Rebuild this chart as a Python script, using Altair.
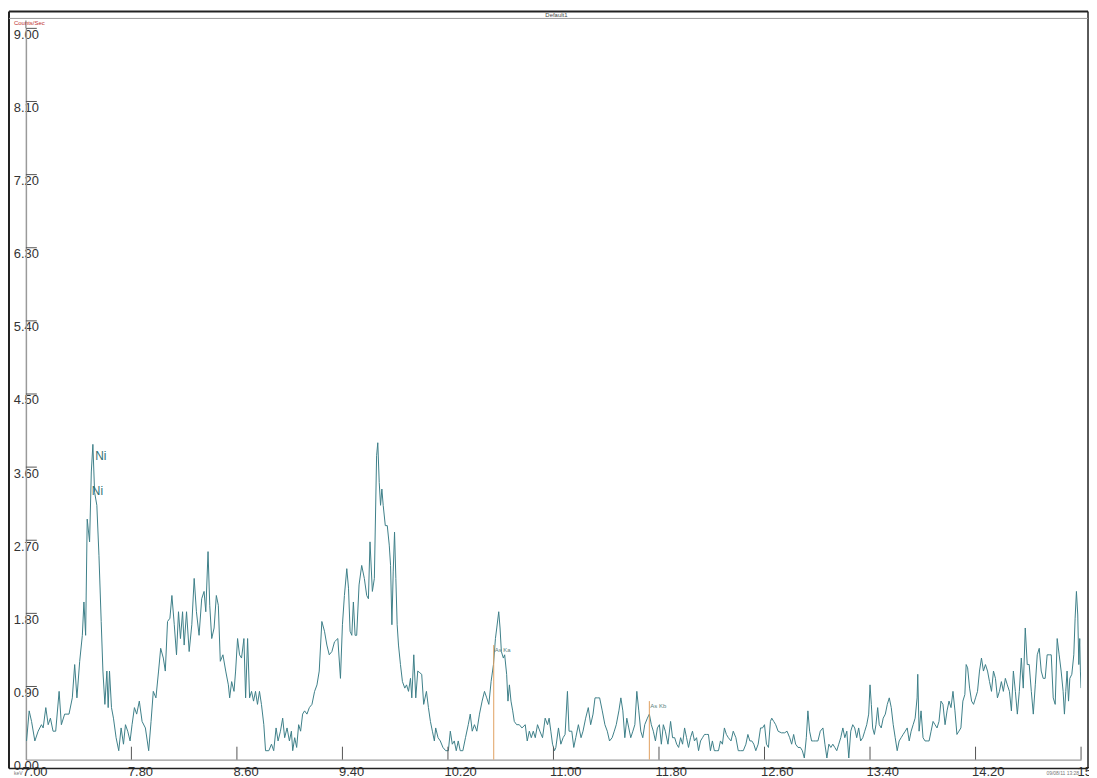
import altair as alt
import pandas as pd

# ---- spectrum data (keV, counts/sec) ----
energy_a = [7.005, 7.025, 7.043, 7.068, 7.093, 7.118, 7.131, 7.151, 7.169, 7.186,
            7.206, 7.226, 7.252, 7.269, 7.294, 7.327, 7.352, 7.370, 7.387, 7.408,
            7.428, 7.440, 7.453, 7.465, 7.483, 7.496, 7.508, 7.521, 7.538, 7.554,
            7.571, 7.584, 7.599, 7.614, 7.624, 7.634, 7.649, 7.664, 7.684, 7.704,
            7.722, 7.740, 7.755, 7.772, 7.790, 7.805, 7.823, 7.840, 7.860, 7.881,
            7.906, 7.931, 7.949, 7.966, 7.986, 8.006, 8.022, 8.042, 8.057, 8.074,
            8.092, 8.107, 8.125, 8.142, 8.157, 8.172, 8.188, 8.200, 8.218, 8.238,
            8.258, 8.276, 8.293, 8.313, 8.333, 8.351, 8.364, 8.381, 8.394, 8.409,
            8.427, 8.444, 8.459, 8.474, 8.494, 8.515, 8.535, 8.545, 8.560, 8.578,
            8.590, 8.605, 8.620, 8.635, 8.653, 8.666, 8.681, 8.696, 8.711, 8.726,
            8.741, 8.756, 8.771, 8.786, 8.804, 8.817, 8.842, 8.862, 8.879, 8.897,
            8.912, 8.930, 8.947, 8.962, 8.980, 8.998, 9.013, 9.023, 9.038, 9.053,
            9.068, 9.083, 9.098, 9.113, 9.131, 9.149, 9.169, 9.189, 9.207, 9.224,
            9.244, 9.264, 9.282, 9.300, 9.320, 9.340, 9.365, 9.385, 9.400, 9.415,
            9.433, 9.446, 9.458, 9.471, 9.483, 9.496, 9.508, 9.526, 9.546, 9.566,
            9.584, 9.597, 9.609, 9.627, 9.642, 9.659, 9.668]
counts_a = [0.23, 0.60, 0.47, 0.23, 0.35, 0.43, 0.39, 0.64, 0.43, 0.51,
            0.35, 0.35, 0.84, 0.43, 0.56, 0.56, 0.76, 1.17, 0.76, 1.21,
            1.53, 1.94, 1.53, 2.96, 2.68, 3.54, 3.88, 3.29, 3.13, 2.51,
            1.70, 1.09, 0.68, 1.09, 0.64, 1.09, 0.64, 0.51, 0.27, 0.11,
            0.39, 0.19, 0.43, 0.35, 0.23, 0.43, 0.64, 0.56, 0.72, 0.47,
            0.39, 0.11, 0.47, 0.84, 0.76, 1.09, 1.37, 1.25, 1.09, 1.70,
            1.74, 2.02, 1.66, 1.29, 1.82, 1.49, 1.82, 1.41, 1.82, 1.33,
            1.66, 2.23, 1.82, 1.53, 1.98, 2.07, 1.82, 2.56, 1.90, 1.49,
            1.62, 2.02, 1.90, 1.21, 1.29, 1.09, 0.92, 0.76, 0.96, 0.84,
            1.09, 1.49, 1.29, 1.25, 1.49, 0.76, 1.49, 0.76, 0.84, 0.72,
            0.84, 0.68, 0.84, 0.68, 0.43, 0.11, 0.11, 0.19, 0.11, 0.39,
            0.23, 0.35, 0.51, 0.27, 0.39, 0.23, 0.35, 0.11, 0.27, 0.15,
            0.43, 0.35, 0.56, 0.60, 0.56, 0.64, 0.68, 0.84, 0.92, 1.09,
            1.70, 1.58, 1.41, 1.29, 1.33, 1.45, 1.49, 1.00, 1.66, 2.02,
            2.35, 2.11, 1.58, 1.53, 1.94, 1.53, 1.53, 2.15, 2.39, 2.23,
            2.02, 1.98, 2.68, 2.07, 2.23, 3.74, 3.90]

energy_b = [9.679, 9.689, 9.699, 9.709, 9.725, 9.740, 9.755, 9.765, 9.775, 9.785,
            9.795, 9.805, 9.815, 9.825, 9.840, 9.855, 9.873, 9.886, 9.901, 9.916,
            9.926, 9.941, 9.956, 9.971, 9.986, 10.001, 10.016, 10.037, 10.052, 10.067,
            10.082, 10.097, 10.107, 10.125, 10.142, 10.162, 10.183, 10.203, 10.218, 10.233,
            10.248, 10.263, 10.278, 10.293, 10.313, 10.333, 10.354, 10.369, 10.384, 10.401,
            10.419, 10.439, 10.459, 10.477, 10.494, 10.510, 10.527, 10.545, 10.560, 10.570,
            10.585, 10.595, 10.605, 10.620, 10.630, 10.645, 10.655, 10.666, 10.678, 10.691,
            10.703, 10.721, 10.741, 10.761, 10.786, 10.801, 10.817, 10.832, 10.847, 10.862,
            10.879, 10.897, 10.917, 10.937, 10.955, 10.967, 10.980, 10.993, 11.008, 11.018,
            11.038, 11.056, 11.073, 11.088, 11.106, 11.118, 11.139, 11.154, 11.169, 11.189,
            11.209, 11.224, 11.244, 11.264, 11.282, 11.300, 11.315, 11.335, 11.350, 11.370,
            11.390, 11.408, 11.425, 11.445, 11.461, 11.476, 11.496, 11.511, 11.526, 11.541,
            11.556, 11.571, 11.586, 11.602, 11.617, 11.632, 11.647, 11.662, 11.677, 11.692,
            11.712, 11.727, 11.742, 11.757, 11.773, 11.788, 11.803, 11.818, 11.833, 11.848,
            11.868, 11.888, 11.903, 11.919, 11.934, 11.949, 11.964, 11.979, 11.994, 12.009,
            12.024, 12.039, 12.054, 12.069, 12.085, 12.100, 12.115, 12.130, 12.145, 12.160,
            12.175, 12.190, 12.205, 12.220, 12.236, 12.251, 12.266, 12.281, 12.296, 12.311,
            12.326, 12.346]
counts_b = [3.41, 3.13, 3.33, 3.13, 2.88, 2.88, 2.64, 2.39, 1.66, 2.31,
            2.80, 2.23, 1.66, 1.41, 1.17, 0.96, 0.88, 0.92, 0.84, 1.00,
            0.76, 1.29, 0.76, 1.09, 1.07, 1.05, 0.68, 0.84, 0.64, 0.47,
            0.35, 0.23, 0.39, 0.27, 0.23, 0.15, 0.11, 0.11, 0.35, 0.19,
            0.23, 0.11, 0.23, 0.11, 0.11, 0.27, 0.43, 0.56, 0.35, 0.43,
            0.35, 0.56, 0.72, 0.84, 0.76, 0.68, 0.96, 1.17, 1.49, 1.62,
            1.82, 1.62, 1.33, 1.25, 1.29, 1.05, 0.72, 0.92, 0.72, 0.60,
            0.47, 0.43, 0.43, 0.39, 0.43, 0.23, 0.35, 0.27, 0.35, 0.27,
            0.43, 0.35, 0.27, 0.51, 0.43, 0.51, 0.35, 0.19, 0.11, 0.15,
            0.39, 0.19, 0.27, 0.31, 0.84, 0.35, 0.35, 0.15, 0.27, 0.43,
            0.27, 0.35, 0.51, 0.64, 0.43, 0.56, 0.76, 0.76, 0.76, 0.60,
            0.43, 0.35, 0.23, 0.27, 0.35, 0.43, 0.60, 0.76, 0.60, 0.27,
            0.51, 0.39, 0.27, 0.35, 0.43, 0.84, 0.60, 0.35, 0.27, 0.43,
            0.51, 0.56, 0.43, 0.35, 0.23, 0.39, 0.43, 0.19, 0.43, 0.35,
            0.19, 0.47, 0.27, 0.27, 0.19, 0.15, 0.27, 0.19, 0.39, 0.27,
            0.15, 0.27, 0.35, 0.23, 0.27, 0.11, 0.23, 0.27, 0.31, 0.31,
            0.31, 0.11, 0.23, 0.11, 0.11, 0.11, 0.23, 0.19, 0.39, 0.31,
            0.27, 0.23]

energy_c = [12.363, 12.383, 12.401, 12.419, 12.439, 12.459, 12.474, 12.489, 12.504, 12.519,
            12.534, 12.552, 12.570, 12.585, 12.600, 12.615, 12.630, 12.645, 12.655, 12.670,
            12.685, 12.703, 12.728, 12.753, 12.771, 12.791, 12.806, 12.821, 12.836, 12.854,
            12.872, 12.887, 12.902, 12.917, 12.929, 12.942, 12.957, 12.972, 12.987, 13.005,
            13.023, 13.043, 13.058, 13.073, 13.088, 13.103, 13.118, 13.133, 13.148, 13.163,
            13.178, 13.194, 13.209, 13.224, 13.239, 13.254, 13.269, 13.284, 13.299, 13.314,
            13.329, 13.345, 13.360, 13.375, 13.390, 13.400, 13.410, 13.420, 13.433, 13.445,
            13.458, 13.470, 13.485, 13.500, 13.516, 13.531, 13.546, 13.561, 13.576, 13.591,
            13.606, 13.621, 13.636, 13.651, 13.667, 13.682, 13.697, 13.712, 13.727, 13.742,
            13.757, 13.762, 13.772, 13.787, 13.802, 13.817, 13.833, 13.848, 13.863, 13.878,
            13.893, 13.908, 13.923, 13.938, 13.953, 13.969, 13.984, 13.999, 14.014, 14.029,
            14.044, 14.059, 14.074, 14.089, 14.104, 14.119, 14.129, 14.140, 14.155, 14.170,
            14.185, 14.200, 14.215, 14.230, 14.245, 14.260, 14.275, 14.291, 14.306, 14.321,
            14.336, 14.351, 14.366, 14.381, 14.396, 14.411, 14.426, 14.441, 14.457, 14.472,
            14.487, 14.502, 14.517, 14.532, 14.547, 14.562, 14.577, 14.592, 14.607, 14.623,
            14.638, 14.653, 14.668, 14.683, 14.698, 14.713, 14.728, 14.743, 14.759, 14.774,
            14.789, 14.804, 14.819, 14.834, 14.849, 14.864, 14.874, 14.884, 14.894, 14.905,
            14.915, 14.930, 14.945, 14.955, 14.965, 14.975, 14.983, 14.990, 14.995, 15.000]
counts_c = [0.35, 0.27, 0.11, 0.11, 0.11, 0.19, 0.31, 0.23, 0.23, 0.19,
            0.11, 0.19, 0.39, 0.39, 0.43, 0.19, 0.15, 0.47, 0.51, 0.47,
            0.43, 0.35, 0.33, 0.33, 0.35, 0.27, 0.19, 0.31, 0.19, 0.15,
            0.15, 0.11, 0.02, 0.27, 0.60, 0.35, 0.23, 0.23, 0.23, 0.23,
            0.35, 0.39, 0.19, 0.02, 0.19, 0.15, 0.19, 0.15, 0.11, 0.19,
            0.27, 0.39, 0.27, 0.35, 0.02, 0.35, 0.43, 0.39, 0.27, 0.39,
            0.23, 0.27, 0.35, 0.43, 0.56, 0.92, 0.68, 0.39, 0.31, 0.43,
            0.64, 0.43, 0.39, 0.51, 0.56, 0.68, 0.76, 0.64, 0.43, 0.27,
            0.11, 0.23, 0.27, 0.31, 0.35, 0.39, 0.23, 0.35, 0.43, 0.51,
            0.76, 1.05, 0.35, 0.60, 0.27, 0.23, 0.23, 0.23, 0.35, 0.47,
            0.43, 0.39, 0.47, 0.72, 0.68, 0.43, 0.60, 0.72, 0.64, 0.84,
            0.60, 0.31, 0.35, 0.39, 0.72, 0.80, 1.17, 1.13, 0.88, 0.72,
            0.68, 0.76, 0.84, 1.09, 1.25, 1.09, 1.17, 1.09, 0.96, 0.84,
            1.09, 1.00, 0.76, 0.84, 0.96, 0.84, 1.00, 0.92, 0.84, 0.60,
            1.09, 0.84, 0.56, 0.84, 1.25, 0.88, 1.62, 1.17, 1.17, 0.84,
            0.56, 0.92, 1.29, 1.37, 1.09, 1.00, 1.00, 1.29, 1.29, 1.29,
            0.76, 0.68, 1.49, 1.29, 1.09, 0.84, 0.56, 0.84, 1.09, 0.72,
            1.00, 1.05, 1.29, 1.74, 2.07, 1.78, 1.17, 1.49, 1.09, 0.88]

# axis ticks
x_ticks = [7.0, 7.8, 8.6, 9.4, 10.2, 11.0, 11.8, 12.6, 13.4, 14.2, 15.0]
y_ticks = [0.0, 0.9, 1.8, 2.7, 3.6, 4.5, 5.4, 6.3, 7.2, 8.1, 9.0]

# element line markers
marker_energy = [10.547, 11.727]
marker_top = [1.41, 0.72]
marker_label = ["As Ka", "As Kb"]

# Ni peak labels
ni_energy = [7.525, 7.500]
ni_counts = [3.74, 3.30]
ni_label = ["Ni", "Ni"]

W, H = 1062, 736
FONT = "Liberation Sans"

def pairs(e, c):
    n = min(len(e), len(c))
    return list(zip(e[:n], c[:n]))

rows = pairs(energy_a, counts_a) + pairs(energy_b, counts_b) + pairs(energy_c, counts_c)
spec_df = pd.DataFrame(rows, columns=["keV", "cps"])

xs = alt.Scale(domain=[7.0, 15.0], nice=False, zero=False)
ys = alt.Scale(domain=[0.0, 9.0], nice=False, zero=True)

spectrum = alt.Chart(spec_df).mark_line(color="#3d7f88", strokeWidth=1, clip=True).encode(
    x=alt.X("keV:Q", scale=xs,
            axis=alt.Axis(values=x_ticks, format=".2f", title=None, grid=False,
                          ticks=False, tickSize=0, domainColor="#9a9a9a", domainWidth=1.5,
                          labelAlign="left", labelOffset=-4, labelFlush=False, labelOverlap=False,
                          labelPadding=6, labelFontSize=13, labelColor="#333333", labelFont=FONT)),
    y=alt.Y("cps:Q", scale=ys,
            axis=alt.Axis(values=y_ticks, format=".2f", title=None, grid=False,
                          ticks=False, tickSize=0, domainColor="#9a9a9a", domainWidth=1.5,
                          labelAlign="center", labelBaseline="top", labelPadding=0,
                          labelOverlap=False, labelFontSize=13, labelColor="#333333",
                          labelFont=FONT)),
)

ytick_df = pd.DataFrame({"v": y_ticks[1:]})
yticks = alt.Chart(ytick_df).mark_rule(color="#555555", strokeWidth=1).encode(
    y=alt.Y("v:Q", scale=ys), x=alt.value(0), x2=alt.value(11))

xtick_df = pd.DataFrame({"v": x_ticks[1:]})
xticks = alt.Chart(xtick_df).mark_rule(color="#555555", strokeWidth=1).encode(
    x=alt.X("v:Q", scale=xs), y=alt.value(H), y2=alt.value(H - 13))

mk_df = pd.DataFrame({"e": marker_energy, "top": marker_top, "base": [0.0, 0.0], "lab": marker_label})
markers = alt.Chart(mk_df).mark_rule(color="#e0a060", strokeWidth=1).encode(
    x=alt.X("e:Q", scale=xs), y=alt.Y("top:Q", scale=ys), y2="base:Q")
marker_text = alt.Chart(mk_df).mark_text(align="left", baseline="top", dx=1, dy=2,
                                         fontSize=6, color="#5a7f80", font=FONT).encode(
    x=alt.X("e:Q", scale=xs), y=alt.Y("top:Q", scale=ys), text="lab:N")

ni_df = pd.DataFrame({"e": ni_energy, "c": ni_counts, "lab": ni_label})
ni_text = alt.Chart(ni_df).mark_text(align="left", baseline="middle", fontSize=12,
                                     color="#2f7074", font=FONT).encode(
    x=alt.X("e:Q", scale=xs), y=alt.Y("c:Q", scale=ys), text="lab:N")

one = pd.DataFrame({"a": [0]})
frame_color = "#222222"
frame = [
    alt.Chart(one).mark_rule(color=frame_color, strokeWidth=2).encode(
        x=alt.value(-17), x2=alt.value(-17), y=alt.value(-17), y2=alt.value(H + 9)),
    alt.Chart(one).mark_rule(color=frame_color, strokeWidth=2).encode(
        x=alt.value(-17), x2=alt.value(W + 7), y=alt.value(-17), y2=alt.value(-17)),
    alt.Chart(one).mark_rule(color=frame_color, strokeWidth=1.5).encode(
        x=alt.value(W + 7), x2=alt.value(W + 7), y=alt.value(-17), y2=alt.value(H + 9)),
    alt.Chart(one).mark_rule(color=frame_color, strokeWidth=1.5).encode(
        x=alt.value(-17), x2=alt.value(W + 7), y=alt.value(H + 9), y2=alt.value(H + 9)),
    alt.Chart(one).mark_rule(color="#999999", strokeWidth=1).encode(
        x=alt.value(-17), x2=alt.value(W + 7), y=alt.value(-10), y2=alt.value(-10)),
    alt.Chart(one).mark_rule(color="#9a9a9a", strokeWidth=1.5).encode(
        x=alt.value(0), x2=alt.value(0), y=alt.value(-8), y2=alt.value(0)),
]

texts = [
    alt.Chart(one).mark_text(text="Default1", fontSize=6, color="#444444", font=FONT,
                             align="center", baseline="middle").encode(
        x=alt.value(W / 2 + 3), y=alt.value(-13.5)),
    alt.Chart(one).mark_text(text="Counts/Sec", fontSize=6, color="#c03030", font=FONT,
                             align="left", baseline="top").encode(
        x=alt.value(-12), y=alt.value(-8)),
    alt.Chart(one).mark_text(text="keV", fontSize=5, color="#777777", font=FONT,
                             align="left", baseline="middle").encode(
        x=alt.value(-12), y=alt.value(H + 13)),
    alt.Chart(one).mark_text(text="09/08/11 13:28", fontSize=5, color="#777777", font=FONT,
                             align="right", baseline="middle").encode(
        x=alt.value(W - 2), y=alt.value(H + 13)),
]

chart = alt.layer(spectrum, yticks, xticks, markers, marker_text, ni_text, *frame, *texts).properties(
    width=W, height=H,
    background="white",
    autosize=alt.AutoSizeParams(type="none"),
    padding={"left": 18, "top": 18, "right": 8, "bottom": 16},
).configure_view(stroke=None, strokeWidth=0)

chart.save("out.html", embed_options={"renderer": "svg", "actions": False})
